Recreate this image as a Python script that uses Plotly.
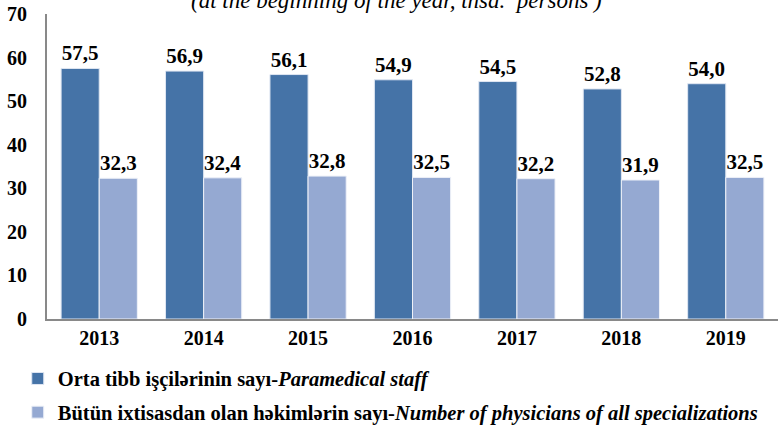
import plotly.graph_objects as go

years = ["2013", "2014", "2015", "2016", "2017", "2018", "2019"]
paramedical = [57.5, 56.9, 56.1, 54.9, 54.5, 52.8, 54.0]
physicians = [32.3, 32.4, 32.8, 32.5, 32.2, 31.9, 32.5]
yticks = [0, 10, 20, 30, 40, 50, 60, 70]

name1 = "<b>Orta tibb işçilərinin sayı-<i>Paramedical staff</i></b>"
name2 = "<b>Bütün ixtisasdan olan həkimlərin sayı-<i>Number of physicians of all specializations</i></b>"

def fmt(vals):
    return [f"{v:.1f}".replace(".", ",") for v in vals]

font = "Liberation Serif, Times New Roman, serif"

fig = go.Figure()
fig.add_trace(go.Bar(x=years, y=paramedical, name=name1, marker_color="#4573A7",
                     marker_line=dict(color="#dfe6f2", width=1),
                     text=fmt(paramedical), textposition="outside", cliponaxis=False,
                     textfont=dict(size=21, color="black", family=font), legendgroup="a"))
fig.add_trace(go.Bar(x=years, y=physicians, name=name2, marker_color="#95A9D2",
                     marker_line=dict(color="#eef1f8", width=1),
                     text=fmt(physicians), textposition="outside", cliponaxis=False,
                     textfont=dict(size=21, color="black", family=font), legendgroup="b"))

fig.update_traces(texttemplate="<b>%{text}</b>")

fig.update_layout(
    width=778, height=428,
    margin=dict(l=47, r=0, t=14, b=109, autoexpand=False),
    barmode="group", bargap=0.27, bargroupgap=0,
    plot_bgcolor="white", paper_bgcolor="white",
    font=dict(family=font, size=20, color="black"),
    legend=dict(x=-0.04, y=-0.13, xanchor="left", yanchor="top",
                orientation="v", traceorder="grouped", tracegroupgap=4,
                font=dict(size=20.5, family=font), itemwidth=30),
    showlegend=True,
)
fig.update_yaxes(range=[0, 70], showgrid=False, showline=True, automargin=False,
                 linecolor="#898989", linewidth=2, ticks="", zeroline=False,
                 tickfont=dict(size=20, family=font), ticklabelstandoff=14,
                 tickvals=yticks, ticktext=[f"<b>{v}</b>" for v in yticks])
fig.update_xaxes(showline=True, linecolor="#898989", linewidth=2, ticks="", automargin=False,
                 tickvals=years, ticktext=[f"<b>{y}</b>" for y in years],
                 tickfont=dict(size=20, family=font))

fig.add_annotation(text="<i>(at the beginning of the year, thsd.  persons )</i>",
                   xref="paper", yref="paper", x=0.478, y=1.045, yanchor="middle",
                   showarrow=False, font=dict(size=23, family=font))

fig.write_html("out.html", config={"displayModeBar": False},
               post_script="document.body.style.margin='0';")
